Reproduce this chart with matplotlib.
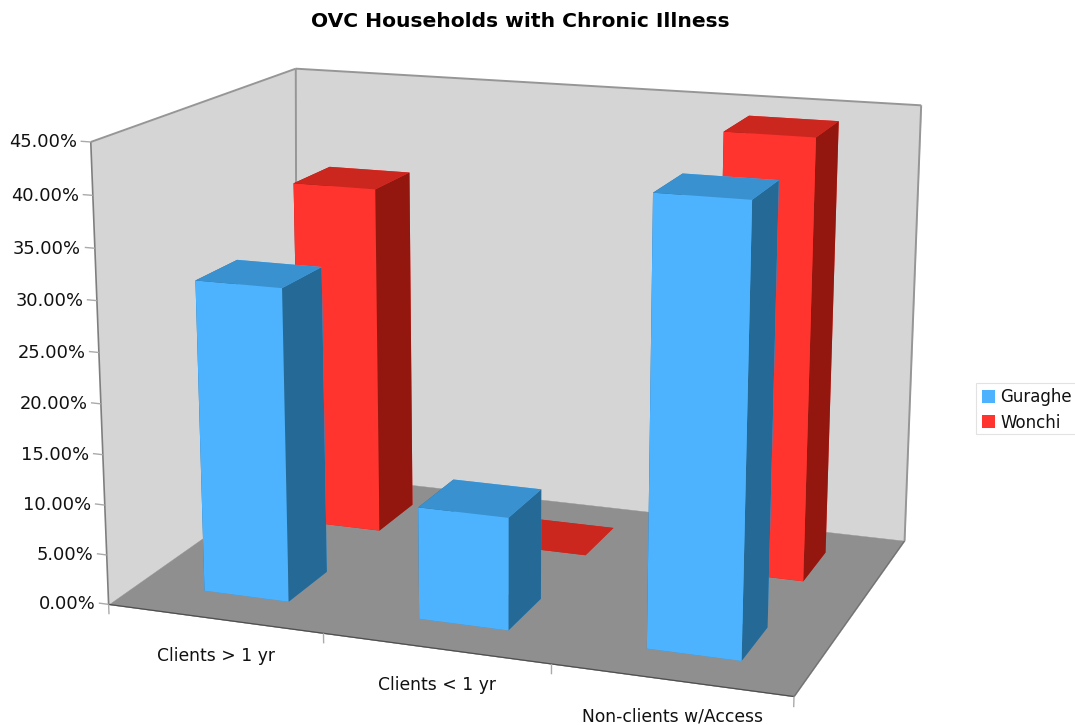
import numpy as np
import matplotlib
matplotlib.use("Agg")
import matplotlib.pyplot as plt
from matplotlib.patches import Patch, Rectangle
from mpl_toolkits.mplot3d.art3d import Poly3DCollection, Line3DCollection

categories = ["Clients > 1 yr", "Clients < 1 yr", "Non-clients w/Access"]
guraghe = [31.0, 11.05, 42.6]
wonchi = [36.0, 0.0, 44.1]
y_ticks = [0, 5, 10, 15, 20, 25, 30, 35, 40, 45]
y_labels = ["0.00%", "5.00%", "10.00%", "15.00%", "20.00%", "25.00%", "30.00%", "35.00%", "40.00%", "45.00%"]
title = "OVC Households with Chronic Illness"

# Camera: homography from (category position, depth, value) to image pixels, fitted to the reference's frame
Z_MAX = 45.0
CAMERA = np.array([
    [205.4849364, 237.752642, -21.7265886 / Z_MAX, 108.6199639],
    [10.5555565, -59.8771558, -468.5021686 / Z_MAX, 604.3956103],
    [-0.0289349, 0.1527348, -0.0427922 / Z_MAX, 1.0],
])
W, H = 1075, 725
BAR_X0, BAR_DX = 0.309, 0.399
BLUE_Y0, RED_Y0, BAR_DY = 0.148, 0.654, 0.204
CORNER_TOP_X, CORNER_BOTTOM_X = 0.017, -0.02
RIGHT_X = 3.006

BLUE = dict(front="#4EB3FF", top="#3A91D0", side="#256A97")
RED = dict(front="#FF342E", top="#CB271F", side="#93170F")
TEXT = "#111111"

fig = plt.figure(figsize=(W / 100, H / 100), dpi=100, facecolor="white")
ax = fig.add_axes([0, 0, 1, 1], projection="3d", computed_zorder=False)
ax.set_axis_off()


def camera_projection():
    flip = np.array([[1, 0, 0], [0, -1, H], [0, 0, 1.0]])
    to_data = ax.transData.inverted().get_affine().get_matrix()
    h = to_data @ flip @ CAMERA
    depth = np.array([-0.5, 1.0, -1.0 / Z_MAX, 0.75])
    return np.vstack([h[0], h[1], depth, h[2]])


ax.get_proj = camera_projection


def to_pixels(x, y, z):
    h = CAMERA @ np.array([x, y, z, 1.0])
    return h[0] / h[2], h[1] / h[2]


def label_at(px, py, s, **kw):
    return fig.text(px / W, 1 - py / H, s, color=TEXT, **kw)


def lines(segments, color, lw, z=2):
    lc = Line3DCollection(segments, colors=color, linewidths=lw, zorder=z)
    lc.set_clip_on(False)
    ax.add_collection3d(lc)


# Walls and floor
cb, ct = (CORNER_BOTTOM_X, 1, 0), (CORNER_TOP_X, 1, Z_MAX)
rb, rt = (RIGHT_X, 1, 0), (RIGHT_X, 1, Z_MAX)
left_wall = [(0, 0, 0), cb, ct, (0, 0, Z_MAX)]
back_wall = [cb, rb, rt, ct]
floor = [(0, 0, 0), (3, 0, 0), rb, cb]
for verts, col in ((left_wall, "#D5D5D5"), (back_wall, "#D5D5D5"), (floor, "#8F8F8F")):
    pc = Poly3DCollection([verts], facecolors=col, edgecolors=col, linewidths=0.3, zorder=1)
    pc.set_clip_on(False)
    ax.add_collection3d(pc)

lines([[(0, 0, 0), (0, 0, Z_MAX)]], "#7E7E7E", 1.2)
lines([[(0, 0, Z_MAX), ct], [ct, cb], [ct, rt], [rt, rb]], "#969696", 1.4)
lines([[(0, 0, 0), (3, 0, 0)]], "#4F4F4F", 0.9)
lines([[(3, 0, 0), rb]], "#707070", 0.8)

# Axis ticks and labels
lines([[(-0.047, 0, t), (0, 0, t)] for t in y_ticks], "#AAAAAA", 1.0)
lines([[(i, 0, 0), (i, 0, -1.0)] for i in range(len(categories) + 1)], "#AAAAAA", 1.0)
for t, lab in zip(y_ticks, y_labels):
    px, py = to_pixels(-0.064, 0, t)
    label_at(px, py + 1.5, lab, ha="right", va="center", fontsize=12.9)
for i, lab in enumerate(categories):
    px, py = to_pixels(i + 0.5, 0, 0)
    label_at(px + 1.5, py + 37, lab, ha="center", va="center", fontsize=12.3)


def draw_bars(values, y0, pal, z):
    for i, v in enumerate(values):
        faces = [pal["top"], pal["top"], pal["front"], pal["front"], pal["side"], pal["side"]]
        pc = ax.bar3d(i + BAR_X0, y0, 0, BAR_DX, BAR_DY, v, color=faces, shade=False, zorder=z)
        pc.set_clip_on(False)


draw_bars(wonchi, RED_Y0, RED, 4)
draw_bars(guraghe, BLUE_Y0, BLUE, 5)

fig.text(520 / W, 1 - 21.5 / H, title, ha="center", va="center", fontsize=14.6, fontweight="bold", color="black")

fig.add_artist(Rectangle((976 / W, 1 - 434 / H), 101 / W, 51 / H, transform=fig.transFigure,
                         facecolor="white", edgecolor="#E2E2E2", linewidth=0.8))
handles = [Patch(facecolor=BLUE["front"], label="Guraghe"), Patch(facecolor=RED["front"], label="Wonchi")]
leg = fig.legend(handles=handles, loc="upper left", bbox_to_anchor=(982 / W, 1 - 388 / H), borderaxespad=0,
                 fontsize=12.0, frameon=False, handlelength=0.78, handleheight=0.8, handletextpad=0.3,
                 labelspacing=0.45, borderpad=0, labelcolor=TEXT)

fig.savefig("out.png", dpi=100)
